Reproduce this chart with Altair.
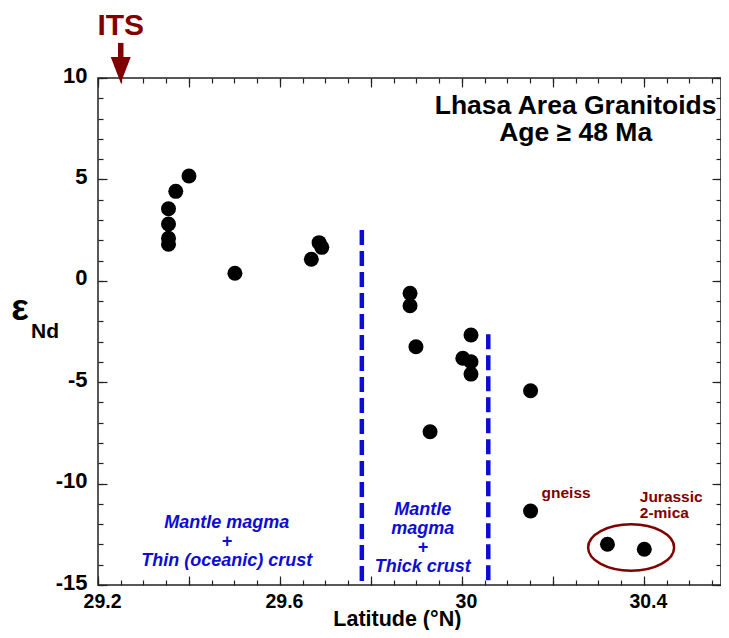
import altair as alt
import pandas as pd

# ---------------- data ----------------
lat_pts = [29.400, 29.371, 29.355, 29.355, 29.355, 29.355, 29.501, 29.686, 29.692,
           29.669, 29.886, 29.886, 29.899, 30.020, 30.002, 30.020, 30.020, 30.151,
           29.930, 30.151, 30.320, 30.401]
eps_pts = [5.17, 4.41, 3.55, 2.80, 2.10, 1.80, 0.37, 1.88, 1.65,
           1.06, -0.62, -1.23, -3.25, -2.67, -3.82, -3.99, -4.60, -5.42,
           -7.44, -11.35, -12.99, -13.24]

# dashed boundaries
bound_lat = [29.78, 30.058]
bound_top = [2.5, -2.64]
bound_bot = [-15, -15]

# ellipse around the Jurassic 2-mica samples
ell_lat = [30.372]
ell_eps = [-13.15]

# tick values
x_minor = [29.2, 29.25, 29.3, 29.35, 29.4, 29.45, 29.5, 29.55, 29.6, 29.65, 29.7,
           29.75, 29.8, 29.85, 29.9, 29.95, 30.0, 30.05, 30.1, 30.15, 30.2, 30.25,
           30.3, 30.35, 30.4, 30.45, 30.5, 30.55]
x_major = [29.2, 29.4, 29.6, 29.8, 30.0, 30.2, 30.4]
x_labels = [29.2, 29.6, 30.0, 30.4]
y_minor = [-15, -14, -13, -12, -11, -10, -9, -8, -7, -6, -5, -4, -3, -2, -1,
           0, 1, 2, 3, 4, 5, 6, 7, 8, 9, 10]
y_major = [-15, -10, -5, 0, 5, 10]

# annotation texts (positions in data units)
title_txt = ["Lhasa Area Granitoids", "Age \u2265 48 Ma"]
title_lat = [30.250, 30.250]
title_eps = [8.63, 7.30]

blue1_txt = ["Mantle magma", "+", "Thin (oceanic) crust"]
blue1_lat = [29.483, 29.483, 29.483]
blue1_eps = [-11.94, -12.88, -13.82]

blue2_txt = ["Mantle", "magma", "+", "Thick crust"]
blue2_lat = [29.914, 29.914, 29.914, 29.914]
blue2_eps = [-11.30, -12.24, -13.18, -14.12]

red_txt = ["gneiss", "Jurassic", "2-mica"]
red_lat = [30.229, 30.391, 30.391]
red_eps = [-10.46, -10.66, -11.45]
red_align = ["center", "left", "left"]

its_lat = [29.25]
its_eps = [12.56]
arrow_top = [11.73]
arrow_bot = [10.7]
arrow_head = [10.54]

ytitle_lat = [29.0285, 29.0835]
ytitle_eps = [-1.39, -2.51]

xtitle_lat = [29.858]
xtitle_eps = [-17.02]

# ---------------- chart ----------------
W, H = 623, 507
FONT = "Liberation Sans"
BLUE = "#0c0cd4"
RED = "#800000"

xs = alt.Scale(domain=[29.2, 30.5696], nice=False, zero=False)
ys = alt.Scale(domain=[-15, 10], nice=False, zero=False)


def tick_axis(orient, values, size, offset):
    return alt.Axis(orient=orient, values=values, tickSize=size, ticks=True, labels=False,
                    domain=False, grid=False, offset=offset, title=None,
                    tickColor="#222222", tickWidth=1.2)


pts = pd.DataFrame({"lat": lat_pts, "eps": eps_pts})
points = alt.Chart(pts).mark_circle(size=225, color="black", opacity=1).encode(
    x=alt.X("lat:Q", scale=xs, axis=alt.Axis(
        orient="bottom", values=x_labels, ticks=False, tickSize=0, domain=False, grid=False,
        labelFont=FONT, labelFontWeight="bold", labelFontSize=19.5, labelColor="black",
        labelPadding=7, labelOffset=4, labelFlush=False, labelExpr="'' + datum.value",
        title=None)),
    y=alt.Y("eps:Q", scale=ys, axis=alt.Axis(
        orient="left", values=y_major, ticks=False, tickSize=0, domain=False, grid=False,
        labelFont=FONT, labelFontWeight="bold", labelFontSize=22, labelColor="black",
        labelPadding=11, labelOffset=-3, labelFlush=False, labelExpr="'' + datum.value",
        title=None)),
)

bdf = pd.DataFrame({"lat": bound_lat, "top": bound_top, "bot": bound_bot})
bounds = alt.Chart(bdf).mark_rule(color=BLUE, strokeWidth=4.5, strokeDash=[15, 6]).encode(
    x=alt.X("lat:Q", scale=xs, axis=tick_axis("top", x_minor, 5, -H)),
    y=alt.Y("top:Q", scale=ys, axis=tick_axis("right", y_minor, 5, -W)),
    y2="bot:Q",
)

ell_path = ("M 1 0 C 1 0.2982 0.5523 0.54 0 0.54 C -0.5523 0.54 -1 0.2982 -1 0 "
            "C -1 -0.2982 -0.5523 -0.54 0 -0.54 C 0.5523 -0.54 1 -0.2982 1 0 Z")
edf = pd.DataFrame({"lat": ell_lat, "eps": ell_eps})
ellipse = alt.Chart(edf).mark_point(shape=ell_path, size=7396, filled=False,
                                     color=RED, strokeWidth=2.5, opacity=1).encode(
    x=alt.X("lat:Q", scale=xs, axis=tick_axis("top", x_major, 9, -H)),
    y=alt.Y("eps:Q", scale=ys, axis=tick_axis("right", y_major, 9, -W)),
)

b1 = pd.DataFrame({"t": blue1_txt, "lat": blue1_lat, "eps": blue1_eps})
blue1 = alt.Chart(b1).mark_text(font=FONT, fontWeight="bold", fontStyle="italic",
                                fontSize=18, color=BLUE, align="center",
                                baseline="middle").encode(
    x=alt.X("lat:Q", scale=xs, axis=tick_axis("bottom", x_minor, 5, -H)),
    y=alt.Y("eps:Q", scale=ys, axis=tick_axis("left", y_minor, 5, -W)),
    text="t:N",
)

b2 = pd.DataFrame({"t": blue2_txt, "lat": blue2_lat, "eps": blue2_eps})
blue2 = alt.Chart(b2).mark_text(font=FONT, fontWeight="bold", fontStyle="italic",
                                fontSize=18, color=BLUE, align="center",
                                baseline="middle").encode(
    x=alt.X("lat:Q", scale=xs, axis=tick_axis("bottom", x_major, 9, -H)),
    y=alt.Y("eps:Q", scale=ys, axis=tick_axis("left", y_major, 9, -W)),
    text="t:N",
)

rdf = pd.DataFrame({"t": red_txt, "lat": red_lat, "eps": red_eps, "al": red_align})
red_c = alt.Chart(rdf[rdf["al"] == "center"]).mark_text(
    font=FONT, fontWeight="bold", fontSize=15.5, color=RED, align="center",
    baseline="middle").encode(
    x=alt.X("lat:Q", scale=xs, axis=None), y=alt.Y("eps:Q", scale=ys, axis=None), text="t:N")
red_l = alt.Chart(rdf[rdf["al"] == "left"]).mark_text(
    font=FONT, fontWeight="bold", fontSize=15.5, color=RED, align="left",
    baseline="middle").encode(
    x=alt.X("lat:Q", scale=xs, axis=None), y=alt.Y("eps:Q", scale=ys, axis=None), text="t:N")

tdf = pd.DataFrame({"t": title_txt, "lat": title_lat, "eps": title_eps})
title = alt.Chart(tdf).mark_text(font=FONT, fontWeight="bold", fontSize=26.5, color="black",
                                 align="center", baseline="middle").encode(
    x=alt.X("lat:Q", scale=xs, axis=None), y=alt.Y("eps:Q", scale=ys, axis=None), text="t:N")

idf = pd.DataFrame({"t": ["ITS"], "lat": its_lat, "eps": its_eps})
its = alt.Chart(idf).mark_text(font=FONT, fontWeight="bold", fontSize=30, color=RED,
                               align="center", baseline="middle").encode(
    x=alt.X("lat:Q", scale=xs, axis=None), y=alt.Y("eps:Q", scale=ys, axis=None), text="t:N")

adf = pd.DataFrame({"lat": its_lat, "top": arrow_top, "bot": arrow_bot, "head": arrow_head})
shaft = alt.Chart(adf).mark_rule(color=RED, strokeWidth=5.5).encode(
    x=alt.X("lat:Q", scale=xs, axis=None), y=alt.Y("top:Q", scale=ys, axis=None), y2="bot:Q")
head = alt.Chart(adf).mark_point(shape="M -1 -1 L 1 -1 L 0 1.6 Z", size=400, filled=True,
                                 color=RED, opacity=1).encode(
    x=alt.X("lat:Q", scale=xs, axis=None), y=alt.Y("head:Q", scale=ys, axis=None))

ydf = pd.DataFrame({"t": ["\u03b5"], "lat": ytitle_lat[:1], "eps": ytitle_eps[:1]})
yt1 = alt.Chart(ydf).mark_text(font=FONT, fontWeight="bold", fontSize=37, color="black",
                               align="center", baseline="middle").encode(
    x=alt.X("lat:Q", scale=xs, axis=None), y=alt.Y("eps:Q", scale=ys, axis=None), text="t:N")
ydf2 = pd.DataFrame({"t": ["Nd"], "lat": ytitle_lat[1:], "eps": ytitle_eps[1:]})
yt2 = alt.Chart(ydf2).mark_text(font=FONT, fontWeight="bold", fontSize=21, color="black",
                                align="center", baseline="middle").encode(
    x=alt.X("lat:Q", scale=xs, axis=None), y=alt.Y("eps:Q", scale=ys, axis=None), text="t:N")

xdf = pd.DataFrame({"t": ["Latitude (\u00b0N)"], "lat": xtitle_lat, "eps": xtitle_eps})
xt = alt.Chart(xdf).mark_text(font=FONT, fontWeight="bold", fontSize=21.5, color="black",
                              align="center", baseline="alphabetic").encode(
    x=alt.X("lat:Q", scale=xs, axis=None), y=alt.Y("eps:Q", scale=ys, axis=None), text="t:N")

chart = alt.layer(
    bounds, ellipse, blue1, blue2, points, red_c, red_l, title, its, shaft, head, yt1, yt2, xt
).resolve_axis(x="independent", y="independent").properties(
    width=W, height=H,
    autosize=alt.AutoSizeParams(type="none"),
    padding={"left": 90, "top": 70, "right": 0, "bottom": 45},
    background="white",
).configure_view(stroke="#222222", strokeWidth=1.5)

chart.save("out.html", embed_options={"renderer": "svg", "actions": False})
